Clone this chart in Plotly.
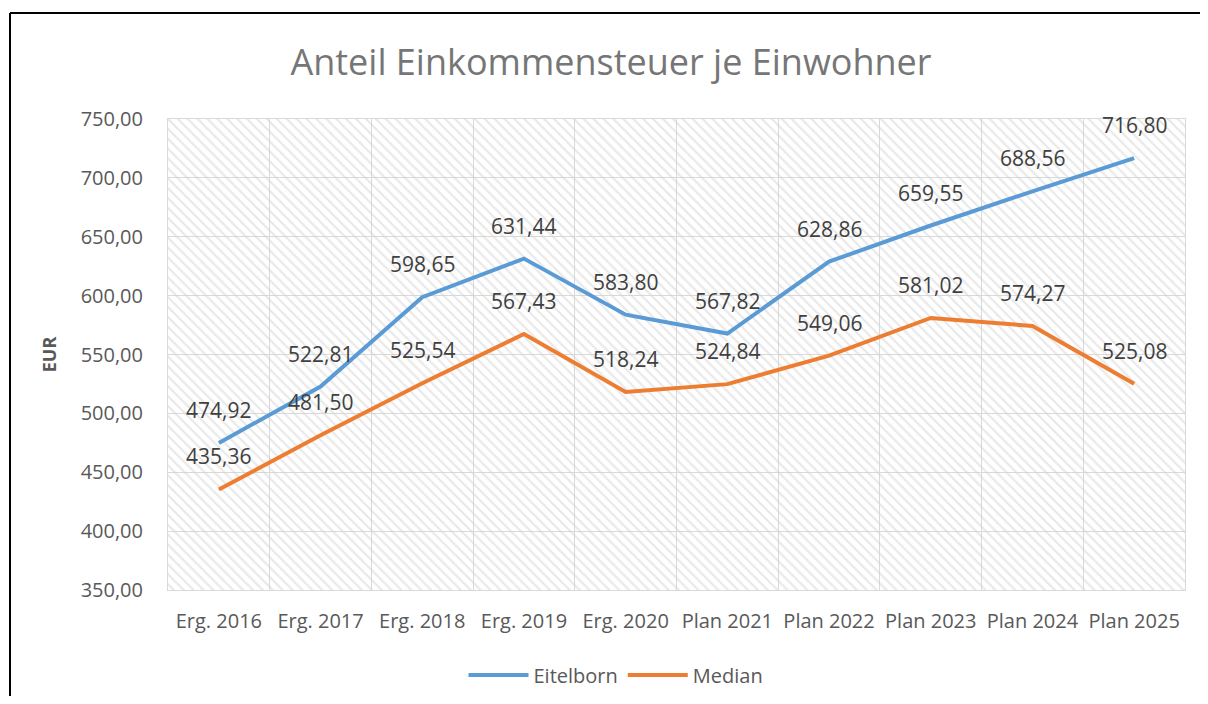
import plotly.graph_objects as go

categories = ["Erg. 2016", "Erg. 2017", "Erg. 2018", "Erg. 2019", "Erg. 2020",
              "Plan 2021", "Plan 2022", "Plan 2023", "Plan 2024", "Plan 2025"]
eitelborn = [474.92, 522.81, 598.65, 631.44, 583.80, 567.82, 628.86, 659.55, 688.56, 716.80]
median = [435.36, 481.50, 525.54, 567.43, 518.24, 524.84, 549.06, 581.02, 574.27, 525.08]

y_min, y_max, y_step = 350, 750, 50

FONT = "Open Sans"
BLUE = "#5B9BD5"
ORANGE = "#ED7D31"

# page has an 8px body margin; figure placed at (8, 8)
W, H = 1192, 688
L, R, T, B = 160, 15, 111, 106
PW, PH = W - L - R, H - T - B

fig = go.Figure()

# hatched plot-area background
fig.add_trace(go.Bar(
    x=categories, y=[y_max - y_min] * len(categories), base=y_min, width=1,
    marker=dict(color="rgba(0,0,0,0)", line=dict(width=0),
                pattern=dict(shape="\\", fgcolor="#d2d2d2", bgcolor="rgba(0,0,0,0)",
                             size=7, solidity=0.32, fillmode="overlay")),
    showlegend=False, hoverinfo="skip"))

fig.add_trace(go.Scatter(x=categories, y=eitelborn, mode="lines", name="Eitelborn",
                         line=dict(color=BLUE, width=4)))
fig.add_trace(go.Scatter(x=categories, y=median, mode="lines", name="Median",
                         line=dict(color=ORANGE, width=4)))

def fmt(v):
    return f"{v:.2f}".replace(".", ",")

annotations = []
for series in (eitelborn, median):
    for c, v in zip(categories, series):
        annotations.append(dict(x=c, y=v, text=fmt(v), showarrow=False, yshift=33,
                                font=dict(family=FONT, size=21, color="#404040")))

fig.update_layout(
    width=W, height=H,
    margin=dict(l=L, r=R, t=T, b=B, autoexpand=False),
    paper_bgcolor="white", plot_bgcolor="white",
    separators=",.",
    bargap=0,
    title=dict(text="Anteil Einkommensteuer je Einwohner", x=(611 - 8) / W, xanchor="center",
               y=1 - (62 - 8) / H, yanchor="middle", yref="container", xref="container",
               font=dict(family=FONT, size=36, color="#767676")),
    font=dict(family=FONT, size=20, color="#595959"),
    xaxis=dict(type="category", range=[-0.5, 9.5], tickson="boundaries", showgrid=True,
               gridcolor="#d9d9d9", gridwidth=1, ticks="", showline=True, linecolor="#d9d9d9",
               mirror=True, tickfont=dict(family=FONT, size=20, color="#595959"),
               ticklabelstandoff=13, automargin=False),
    yaxis=dict(range=[y_min, y_max], dtick=y_step, tick0=y_min, tickformat=".2f",
               showgrid=True, gridcolor="#d9d9d9", gridwidth=1, zeroline=False,
               showline=True, linecolor="#d9d9d9", mirror=True, ticks="",
               tickfont=dict(family=FONT, size=20, color="#595959"), ticklabelstandoff=20,
               automargin=False,
               title=dict(text="<b>EUR</b>", standoff=19,
                          font=dict(family=FONT, size=18, color="#595959"))),
    legend=dict(orientation="h", xref="container", x=(616 - 8) / W, xanchor="center",
                y=(582 - 667) / PH, yanchor="middle",
                font=dict(family=FONT, size=20, color="#595959"), itemwidth=60,
                traceorder="normal"),
    annotations=annotations,
    shapes=[
        dict(type="line", xref="paper", yref="paper", x0=(2 - L) / PW, x1=(W + 10 - L) / PW,
             y0=(T + PH - 5) / PH, y1=(T + PH - 5) / PH, line=dict(color="black", width=2)),
        dict(type="line", xref="paper", yref="paper", x0=(2 - L) / PW, x1=(2 - L) / PW,
             y0=(T + PH - 5) / PH, y1=-(B + 10) / PH, line=dict(color="black", width=2)),
    ],
)

fig.write_html("out.html")
